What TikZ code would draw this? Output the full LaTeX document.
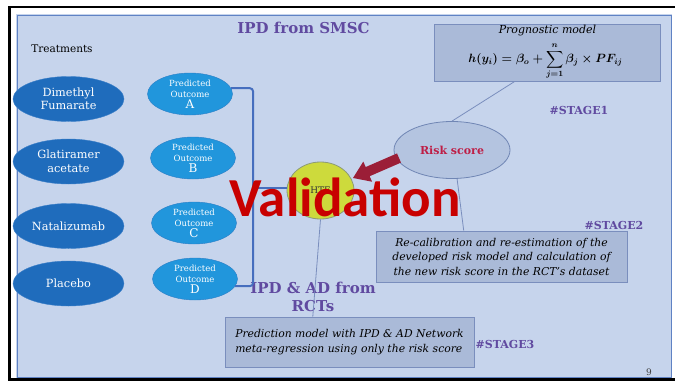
\documentclass[tikz,border=0pt]{standalone}
\usepackage{fontspec}
\setmainfont{DejaVu Serif}
\newfontfamily\valfont{Carlito}
\usepackage{amsmath}
\usetikzlibrary{shapes.geometric,calc}

\definecolor{panelfill}{HTML}{C6D4EC}
\definecolor{paneledge}{HTML}{5F82C4}
\definecolor{treatfill}{HTML}{1F6CBC}
\definecolor{treatedge}{HTML}{3B7FC8}
\definecolor{outcfill}{HTML}{2196DC}
\definecolor{outcedge}{HTML}{2B7EC6}
\definecolor{boxfill}{HTML}{AABAD8}
\definecolor{boxedge}{HTML}{7A8EBD}
\definecolor{riskfill}{HTML}{B4C4E0}
\definecolor{riskedge}{HTML}{7086B4}
\definecolor{riskred}{HTML}{BE1E46}
\definecolor{htefill}{HTML}{CDDA3C}
\definecolor{hteedge}{HTML}{8C9A78}
\definecolor{stagepurple}{HTML}{604AA0}
\definecolor{arrowred}{HTML}{9B1E37}
\definecolor{valred}{HTML}{C80000}
\definecolor{bracketcol}{HTML}{466EBE}
\definecolor{linkcol}{HTML}{7A8EBD}

\begin{document}
\begin{tikzpicture}[x=1pt,y=-1pt,
  treat/.style={ellipse, draw=treatedge, fill=treatfill, text=white,
    minimum width=111pt, minimum height=45pt, inner sep=0pt, align=center,
    font=\fontsize{11.3}{13.5}\selectfont},
  outc/.style={ellipse, draw=outcedge, fill=outcfill, text=white,
    minimum width=85pt, minimum height=42pt, inner sep=0pt, align=center,
    font=\fontsize{8.5}{11}\selectfont},
  infobox/.style={rectangle, draw=boxedge, fill=boxfill, line width=0.8pt, inner sep=0pt},
  stage/.style={text=stagepurple, font=\fontsize{11}{13}\selectfont\bfseries},
  heading/.style={text=stagepurple, font=\fontsize{15}{18}\selectfont\bfseries, align=center},
  link/.style={draw=linkcol, line width=0.8pt},
  bracket/.style={draw=bracketcol, line width=2pt, rounded corners=3pt}]
\useasboundingbox (0,0) rectangle (675,381);

% page frame and slide panel
\fill[white] (0,0) rectangle (675,381);
\draw[line width=2.5pt] (675,7) -- (9.5,7) -- (9.5,379.5) -- (675,379.5);
\fill[panelfill] (16,14) rectangle (672,378);
\draw[paneledge, line width=1pt] (17.5,15.5) rectangle (671.5,377);

% headings
\node[heading] (title) at (303.5,28) {IPD from SMSC};
\node[heading] (rcthead) at (313,297) {IPD \& AD from\\RCTs};
\node[font=\fontsize{10.5}{12}\selectfont] (treatlabel) at (62,49) {Treatments};

% treatments
\node[treat] (dmf) at (68.5,99) {Dimethyl\\Fumarate};
\node[treat] (ga)  at (68.5,161.5) {Glatiramer\\acetate};
\node[treat] (nat) at (68.5,226) {Natalizumab};
\node[treat] (pla) at (68.5,283.5) {Placebo};

% predicted outcomes
\node[outc] (oa) at (190,94)  {Predicted\\Outcome\\{\fontsize{12}{10}\selectfont A}};
\node[outc] (ob) at (193,158) {Predicted\\Outcome\\{\fontsize{12}{10}\selectfont B}};
\node[outc] (oc) at (194,223) {Predicted\\Outcome\\{\fontsize{12}{10}\selectfont C}};
\node[outc] (od) at (195,279) {Predicted\\Outcome\\{\fontsize{12}{10}\selectfont D}};

% HTE and risk score
\node[ellipse, draw=hteedge, fill=htefill, line width=0.8pt, minimum width=67pt,
  minimum height=57pt, inner sep=0pt, font=\fontsize{9}{10}\selectfont,
  text=black!80] (hte) at (320.5,190.5) {HTE};
\node[ellipse, draw=riskedge, fill=riskfill, line width=0.8pt, minimum width=116pt,
  minimum height=57pt, inner sep=0pt, text=riskred,
  font=\fontsize{11}{13}\selectfont\bfseries] (risk) at (452,150) {Risk score};

% model boxes
\node[infobox, minimum width=226pt, minimum height=57pt] (prog) at (547,52.5) {};
\node[font=\fontsize{11}{13}\selectfont\itshape, inner sep=1pt] (progtitle) at (547.5,31) {Prognostic model};
\node[font=\fontsize{12}{14}\selectfont\boldmath, inner sep=0pt] (progeq) at (545.5,61)
  {$\displaystyle h(y_i)=\beta_o+\sum_{j=1}^{n}\beta_j\times PF_{ij}$};
\node[infobox, minimum width=251pt, minimum height=51pt, align=center,
  font=\fontsize{10.8}{14.5}\selectfont\itshape] (recal) at (501.5,256.5)
  {Re-calibration and re-estimation of the\\developed risk model and calculation of\\the new risk score in the RCT's dataset};
\node[infobox, minimum width=249pt, minimum height=50pt, align=left,
  font=\fontsize{10.8}{15}\selectfont\itshape] (pred) at (349.5,342)
  {Prediction model with IPD \& AD Network\\meta-regression using only the risk score};

% stage labels and page number
\node[stage] (s1) at (579,110) {\#STAGE1};
\node[stage] (s2) at (614,225) {\#STAGE2};
\node[stage] (s3) at (505,344) {\#STAGE3};
\node[font=\fontsize{9}{10}\selectfont, text=black!75] (pageno) at (649,372) {9};

% thin connectors
\draw[link] ($(prog.south west)!0.358!(prog.south east)$) -- (risk.north);
\draw[link] (risk.-80) -- ($(recal.north west)!0.35!(recal.north east)$);
\draw[link] (hte.south) -- ($(pred.north west)!0.353!(pred.north east)$);

% bracket joining the predicted outcomes to HTE
\coordinate (brk) at (253,188);
\draw[bracket] (oa.8) -- (oa.8 -| brk) -- (od.-10 -| brk) -- (od.-10);
\draw[bracket, rounded corners=0pt] (brk) -- (brk -| hte.west);

% block arrow from the risk score into HTE
\coordinate (arrtail) at (399,158);
\coordinate (arrtip) at (353,178);
\coordinate (hb) at ($(arrtip)!16pt!(arrtail)$);
\fill[arrowred] ($(arrtail)!5pt!90:(arrtip)$) -- ($(hb)!5pt!90:(arrtip)$)
  -- ($(hb)!11pt!90:(arrtip)$) -- (arrtip) -- ($(hb)!11pt!-90:(arrtip)$)
  -- ($(hb)!5pt!-90:(arrtip)$) -- ($(arrtail)!5pt!-90:(arrtip)$) -- cycle;

% overlay caption
\node[text=valred, font=\valfont\bfseries\fontsize{55}{60}\selectfont, anchor=base,
  inner sep=0pt] (valid) at (345,216) {Validation};
\end{tikzpicture}
\end{document}
